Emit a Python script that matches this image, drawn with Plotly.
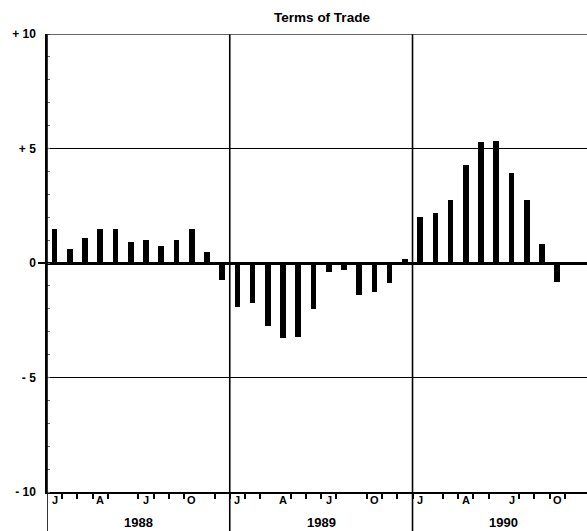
import plotly.graph_objects as go

# ---- data (percent change, monthly) ----
years = ["1988", "1989", "1990"]
values_1988 = [1.5, 0.63, 1.1, 1.5, 1.5, 0.93, 1.02, 0.76, 1.02, 1.5, 0.47, -0.75]
values_1989 = [-1.92, -1.73, -2.73, -3.27, -3.24, -2.0, -0.41, -0.29, -1.41, -1.28, -0.88, 0.19]
values_1990 = [2.0, 2.18, 2.76, 4.3, 5.27, 5.33, 3.92, 2.76, 0.84, -0.82]
month_labels = ["J", "A", "J", "O"]
month_label_pos = [1, 4, 7, 10]
y_tickvals = [-10, -5, 0, 5, 10]
y_ticktext = ["- 10", "- 5", "0", "+ 5", "+ 10"]
title_text = "Terms of Trade"

FONT = "Liberation Sans Narrow, Arial Narrow, Liberation Sans, sans-serif"

all_values = values_1988 + values_1989 + values_1990
x_pos = [i + 0.5 for i in range(len(all_values))]

fig = go.Figure()
fig.add_trace(go.Bar(x=x_pos, y=all_values, width=0.37,
                     marker=dict(color="black", line=dict(width=0)),
                     showlegend=False, hoverinfo="skip"))

MONTH_W = 15.23
x_max = 540 / MONTH_W
T, B, L = 34, 39, 47
plot_h = 531 - T - B

fig.update_layout(
    width=587, height=531,
    margin=dict(l=L, r=0, t=T, b=B),
    paper_bgcolor="white", plot_bgcolor="white",
    bargap=0,
    font=dict(family=FONT, color="black", size=12),
    title=dict(text="<b>" + title_text + "</b>", x=322 / 587, xanchor="center",
               y=1 - 17 / 531, yanchor="middle",
               font=dict(family=FONT, size=13.5, color="black")),
    xaxis=dict(range=[0, x_max], showgrid=False, zeroline=False,
               showline=True, linecolor="black", linewidth=2, mirror=False,
               showticklabels=False, ticks="",
               minor=dict(tick0=0, dtick=1, ticks="outside", ticklen=5,
                          tickwidth=1.5, tickcolor="black", showgrid=False)),
    yaxis=dict(range=[-10, 10], showgrid=True, gridcolor="black", gridwidth=1,
               zeroline=True, zerolinecolor="black", zerolinewidth=2.5,
               showline=True, linecolor="black", linewidth=1.5,
               tickvals=y_tickvals, ticktext=["<b>" + t + "</b>" for t in y_ticktext],
               ticks="", ticklabelstandoff=7,
               tickfont=dict(family=FONT, size=12, color="black"),
               minor=dict(tick0=0, dtick=1, ticks="inside", ticklen=3,
                          tickwidth=1, tickcolor="#666", showgrid=False)),
)

# year separator lines extending below the axis
for yi in range(len(years) + 1):
    fig.add_shape(type="line", xref="x", yref="paper",
                  x0=yi * 12, x1=yi * 12, y0=-B / plot_h, y1=1,
                  line=dict(color="black", width=1.6))
# top border line
fig.add_shape(type="line", xref="paper", yref="y", x0=0, x1=1, y0=10, y1=10,
              line=dict(color="#333", width=1.5))
# zero line stub left of axis
fig.add_shape(type="line", xref="paper", yref="y", x0=-9 / 540, x1=0, y0=0, y1=0,
              line=dict(color="black", width=2))

# month labels
for yi in range(len(years)):
    for m, lab in zip(month_label_pos, month_labels):
        fig.add_annotation(x=yi * 12 + m - 0.5, xref="x", y=-7.5 / plot_h, yref="paper",
                           text="<b>" + lab + "</b>", showarrow=False,
                           font=dict(family=FONT, size=11, color="black"),
                           xanchor="center", yanchor="middle")

# year labels
for yi, yr in enumerate(years):
    fig.add_annotation(x=yi * 12 + 6, xref="x", y=-30 / plot_h, yref="paper",
                       text="<b>" + yr + "</b>", showarrow=False,
                       font=dict(family=FONT, size=13, color="black"),
                       xanchor="center", yanchor="middle")

fig.write_html("out.html", config={"displayModeBar": False},
               post_script="document.body.style.margin='0';")
